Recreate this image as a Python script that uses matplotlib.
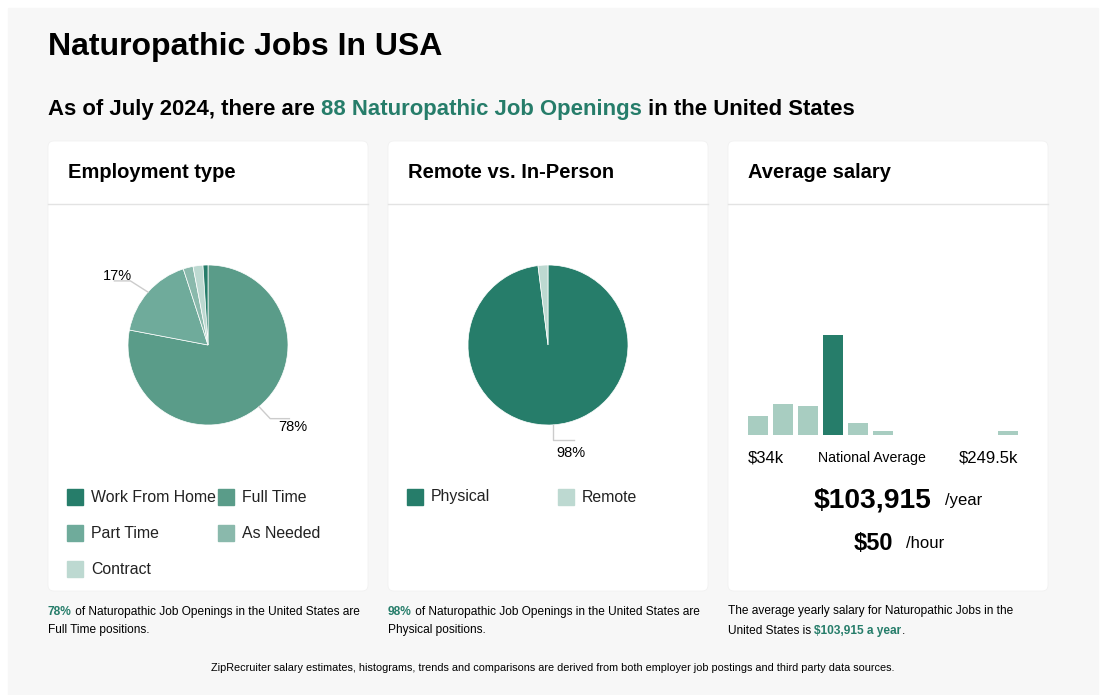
import matplotlib
matplotlib.use('Agg')

import matplotlib.pyplot as plt
import numpy as np
from matplotlib.patches import Rectangle, FancyBboxPatch

plt.rcParams['font.family'] = ['Liberation Sans', 'DejaVu Sans']

# data
emp_labels = ["Work From Home", "Full Time", "Part Time", "As Needed", "Contract"]
emp_colors = ["#267d6a", "#5a9c89", "#6fab9b", "#8ab9ac", "#bdd9d1"]
# pie order (clockwise from top)
emp_pie_order = ["Full Time", "Part Time", "As Needed", "Contract", "Work From Home"]
emp_values = {"Full Time": 78, "Part Time": 17, "As Needed": 2, "Contract": 2, "Work From Home": 1}
emp_shown = ["Full Time", "Part Time"]

loc_labels = ["Physical", "Remote"]
loc_values = [98, 2]
loc_colors = ["#267d6a", "#bdd9d1"]

salary_bins = [19, 31, 29, 100, 12, 4.5, 0, 0, 0, 0, 4]
salary_highlight = 3
salary_min = "$34k"
salary_max = "$249.5k"
avg_year = "$103,915"
avg_hour = "$50"

GREEN = "#267d6a"
W, H = 1110, 695

fig = plt.figure(figsize=(W / 100, H / 100), dpi=100, facecolor='white')
bg = fig.add_axes([0, 0, 1, 1])
bg.set_xlim(0, W)
bg.set_ylim(H, 0)
bg.axis('off')


def px_axes(x0, y0, x1, y1):
	return fig.add_axes([x0 / W, 1 - y1 / H, (x1 - x0) / W, (y1 - y0) / H])


def rich(ax, x, y, parts, **kw):
	# parts: list of (text, color, weight)
	t = None
	for s, c, w in parts:
		if t is None:
			t = ax.text(x, y, s, color=c, fontweight=w, va='bottom', **kw)
		else:
			t = ax.annotate(s, xy=(1, 0), xycoords=t, va='bottom', color=c, fontweight=w, **kw)
	return t


bg.add_patch(Rectangle((8, 8), 1090, 687, color='#f7f7f7', zorder=0))

bg.text(48, 47, "Naturopathic Jobs In USA", fontsize=23, fontweight='bold', va='center', color='black')
rich(bg, 48, 120, [("As of July 2024, there are ", 'black', 'bold'),
				   ("88 Naturopathic Job Openings", GREEN, 'bold'),
				   (" in the United States", 'black', 'bold')], fontsize=15.9)

card_titles = ["Employment type", "Remote vs. In-Person", "Average salary"]
for i, x0 in enumerate([48, 388, 728]):
	bg.add_patch(FancyBboxPatch((x0, 141), 320, 450, boxstyle='round,pad=0,rounding_size=6',
								fc='white', ec='#f0f0f0', lw=0.5, zorder=1))
	bg.plot([x0, x0 + 320], [204, 204], color='#e3e3e3', lw=1, zorder=2)
	bg.text(x0 + 20, 172, card_titles[i], fontsize=14.5, fontweight='bold', va='center', zorder=3)


def draw_pie(ax, labels, values, colors):
	ax.pie(values, colors=colors, startangle=90, counterclock=False, radius=1,
		   wedgeprops=dict(lw=0.5, edgecolor='white'))
	ax.set_xlim(-1, 1)
	ax.set_ylim(-1, 1)
	ax.set_aspect('equal')
	ax.axis('off')
	total = float(sum(values))
	cum = 0
	out = {}
	for lab, v in zip(labels, values):
		mid = (cum + v / 2) / total * 360
		cum += v
		out[lab] = np.deg2rad(90 - mid)
	return out, total


# employment type pie (center 208,345 r 80)
ax1 = px_axes(128, 265, 288, 425)
vals1 = [emp_values[k] for k in emp_pie_order]
cols1 = [emp_colors[emp_labels.index(k)] for k in emp_pie_order]
ang1, tot1 = draw_pie(ax1, emp_pie_order, vals1, cols1)
for lab in emp_shown:
	a = ang1[lab]
	x, y = np.cos(a), np.sin(a)
	pct = "%d%%" % round(emp_values[lab] / tot1 * 100)
	if x < 0:
		ax1.plot([x, x - 0.22, x - 0.42], [y, y + 0.14, y + 0.14], color='#cccccc', lw=1, clip_on=False)
		ax1.text(x - 0.2, y + 0.2, pct, ha='right', va='center', fontsize=10.5, clip_on=False)
	else:
		ax1.plot([x, x + 0.14, x + 0.38], [y, y - 0.15, y - 0.15], color='#cccccc', lw=1, clip_on=False)
		ax1.text(x + 0.24, y - 0.26, pct, ha='left', va='center', fontsize=10.5, clip_on=False)

# remote pie (center 548,345)
ax2 = px_axes(468, 265, 628, 425)
ang2, tot2 = draw_pie(ax2, loc_labels, loc_values, loc_colors)
a = ang2["Physical"]
x, y = np.cos(a), np.sin(a)
ax2.plot([x, x, x + 0.26], [y, y - 0.19, y - 0.19], color='#cccccc', lw=1, clip_on=False)
ax2.text(x + 0.22, y - 0.35, "%d%%" % round(loc_values[0] / tot2 * 100), ha='center', va='center',
		 fontsize=10.5, clip_on=False)

# legends
leg_pos1 = [(67, 497), (218, 497), (67, 533), (218, 533), (67, 569)]
for lab, (lx, ly) in zip(emp_labels, leg_pos1):
	bg.add_patch(Rectangle((lx, ly - 8), 16, 16, color=emp_colors[emp_labels.index(lab)], zorder=3))
	bg.text(lx + 24, ly, lab, fontsize=11.4, va='center', color='#222222', zorder=3)
leg_pos2 = [(407, 497), (558, 497)]
for lab, c, (lx, ly) in zip(loc_labels, loc_colors, leg_pos2):
	bg.add_patch(Rectangle((lx, ly - 8), 16, 16, color=c, zorder=3))
	bg.text(lx + 24, ly, lab, fontsize=11.4, va='center', color='#222222', zorder=3)

# salary histogram
ax3 = px_axes(745.5, 335, 1020.5, 435)
bar_cols = [GREEN if i == salary_highlight else '#a8cdc1' for i in range(len(salary_bins))]
ax3.bar(range(len(salary_bins)), salary_bins, width=0.8, color=bar_cols)
ax3.set_xlim(-0.5, len(salary_bins) - 0.5)
ax3.set_ylim(0, max(salary_bins))
ax3.axis('off')

bg.text(748, 458, salary_min, fontsize=12, va='center', ha='left', zorder=3)
bg.text(872, 458, "National Average", fontsize=10.2, va='center', ha='center', zorder=3)
bg.text(1018, 458, salary_max, fontsize=12, va='center', ha='right', zorder=3)
bg.text(932, 500, avg_year, fontsize=20.3, fontweight='bold', va='center', ha='right', zorder=3)
bg.text(945, 500, "/year", fontsize=12, va='center', ha='left', zorder=3)
bg.text(893, 544, avg_hour, fontsize=17, fontweight='bold', va='center', ha='right', zorder=3)
bg.text(906, 544, "/hour", fontsize=12, va='center', ha='left', zorder=3)

# footnotes
fs = 8.6
rich(bg, 48, 618, [("78%", GREEN, 'bold'),
				   (" of Naturopathic Job Openings in the United States are", 'black', 'normal')], fontsize=fs)
bg.text(48, 630, "Full Time positions.", fontsize=fs, va='center')
rich(bg, 388, 618, [("98%", GREEN, 'bold'),
					(" of Naturopathic Job Openings in the United States are", 'black', 'normal')], fontsize=fs)
bg.text(388, 630, "Physical positions.", fontsize=fs, va='center')
bg.text(728, 611, "The average yearly salary for Naturopathic Jobs in the", fontsize=fs, va='center')
rich(bg, 728, 637, [("United States is ", 'black', 'normal'),
					("$103,915 a year", GREEN, 'bold'),
					(".", 'black', 'normal')], fontsize=fs)

bg.text(553, 668, "ZipRecruiter salary estimates, histograms, trends and comparisons are derived from both employer job postings and third party data sources.",
		fontsize=7.85, ha='center', va='center')

fig.savefig('out.png', dpi=100, facecolor='white')
